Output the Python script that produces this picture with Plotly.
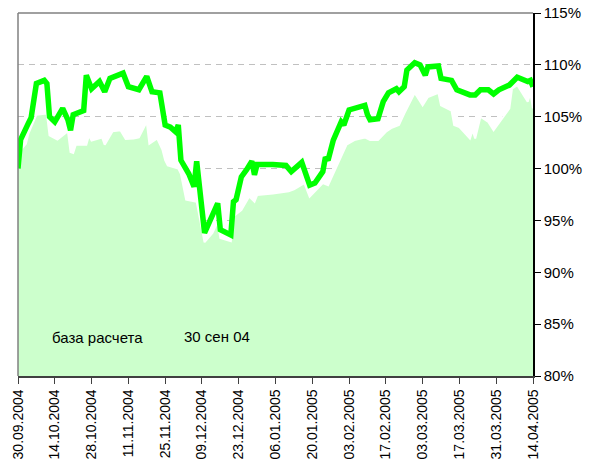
import plotly.graph_objects as go

# Main series (green line)
line_dates = [
    "2004-09-30", "2004-10-01", "2004-10-04", "2004-10-05", "2004-10-07", "2004-10-10",
    "2004-10-11", "2004-10-12", "2004-10-14", "2004-10-17", "2004-10-19", "2004-10-20",
    "2004-10-21", "2004-10-25", "2004-10-26", "2004-10-28", "2004-10-31", "2004-11-02",
    "2004-11-04", "2004-11-09", "2004-11-11", "2004-11-15", "2004-11-18", "2004-11-20",
    "2004-11-23", "2004-11-24", "2004-11-25", "2004-11-27", "2004-11-29", "2004-11-30",
    "2004-12-01", "2004-12-04", "2004-12-06", "2004-12-07", "2004-12-10", "2004-12-15",
    "2004-12-16", "2004-12-20", "2004-12-21", "2004-12-22", "2004-12-24", "2004-12-26",
    "2004-12-28", "2004-12-29", "2004-12-30", "2005-01-05", "2005-01-10", "2005-01-12",
    "2005-01-16", "2005-01-19", "2005-01-21", "2005-01-24", "2005-01-25", "2005-01-26",
    "2005-01-28", "2005-01-31", "2005-02-01", "2005-02-03", "2005-02-07", "2005-02-09",
    "2005-02-10", "2005-02-11", "2005-02-14", "2005-02-16", "2005-02-18", "2005-02-21",
    "2005-02-22", "2005-02-24", "2005-02-25", "2005-02-28", "2005-03-02", "2005-03-04",
    "2005-03-05", "2005-03-09", "2005-03-10", "2005-03-14", "2005-03-16", "2005-03-21",
    "2005-03-23", "2005-03-25", "2005-03-28", "2005-03-30", "2005-04-01", "2005-04-05",
    "2005-04-08", "2005-04-12", "2005-04-13", "2005-04-14",
]
line_values = [
    100.0, 102.8, 104.4, 104.9, 108.2, 108.5,
    108.2, 105.0, 104.5, 105.8, 104.7, 103.7,
    105.2, 105.6, 109.0, 107.7, 108.4, 107.4,
    108.7, 109.2, 107.9, 107.6, 108.9, 107.4,
    107.3, 106.0, 104.2, 104.0, 103.55, 104.2,
    100.8, 99.5, 98.25, 100.7, 93.8, 96.65,
    94.1, 93.6, 96.8, 97.0, 99.2, 99.9,
    100.7, 99.4, 100.4, 100.4, 100.3, 99.7,
    100.6, 98.4, 98.6, 99.7, 101.1, 100.8,
    102.75, 104.5, 104.2, 105.65, 106.0, 106.1,
    105.2, 104.7, 104.8, 106.45, 107.3, 107.7,
    107.4, 107.9, 109.5, 110.2, 110.0, 109.0,
    109.8, 109.9, 108.7, 108.5, 107.6, 107.1,
    107.1, 107.6, 107.6, 107.2, 107.6, 108.05,
    108.8, 108.4, 108.5, 107.9,
]

# Benchmark series (light green area)
area_dates = [
    "2004-09-30", "2004-10-01", "2004-10-03", "2004-10-04", "2004-10-07", "2004-10-11",
    "2004-10-12", "2004-10-14", "2004-10-15", "2004-10-19", "2004-10-20", "2004-10-21",
    "2004-10-22", "2004-10-26", "2004-10-27", "2004-10-28", "2004-11-01", "2004-11-02",
    "2004-11-05", "2004-11-08", "2004-11-10", "2004-11-13", "2004-11-15", "2004-11-18",
    "2004-11-19", "2004-11-22", "2004-11-24", "2004-11-25", "2004-11-26", "2004-11-30",
    "2004-12-01", "2004-12-03", "2004-12-07", "2004-12-10", "2004-12-13", "2004-12-15",
    "2004-12-16", "2004-12-20", "2004-12-21", "2004-12-24", "2004-12-27", "2004-12-29",
    "2004-12-30", "2005-01-05", "2005-01-11", "2005-01-13", "2005-01-17", "2005-01-19",
    "2005-01-21", "2005-01-24", "2005-01-26", "2005-01-29", "2005-02-02", "2005-02-05",
    "2005-02-07", "2005-02-09", "2005-02-11", "2005-02-14", "2005-02-17", "2005-02-19",
    "2005-02-22", "2005-02-24", "2005-02-28", "2005-03-03", "2005-03-05", "2005-03-09",
    "2005-03-10", "2005-03-14", "2005-03-15", "2005-03-17", "2005-03-21", "2005-03-22",
    "2005-03-23", "2005-03-25", "2005-03-28", "2005-03-30", "2005-04-05", "2005-04-06",
    "2005-04-08", "2005-04-12", "2005-04-13", "2005-04-14",
]
area_values = [
    100.0, 101.8, 102.4, 103.4, 105.2, 105.3,
    103.2, 102.9, 102.8, 103.6, 101.6, 101.5,
    102.3, 102.3, 103.2, 102.7, 103.0, 102.3,
    103.6, 103.7, 102.85, 102.9, 103.0, 104.5,
    102.4, 102.9, 101.8, 100.8, 100.3, 100.0,
    99.5, 97.0, 96.8, 92.9, 93.8, 94.9,
    93.3, 93.0, 95.4, 96.0, 97.3, 96.8,
    97.45, 97.6, 97.8, 98.0, 98.6, 97.3,
    97.8, 98.6, 98.4, 100.0, 102.3, 102.75,
    102.9, 103.0, 102.75, 102.75, 103.55, 103.9,
    104.2, 105.3, 107.3, 106.1, 106.9, 107.3,
    106.1, 105.6, 104.2, 104.0, 102.9, 103.7,
    102.9, 105.0, 104.5, 103.7, 105.8, 107.7,
    108.05, 106.45, 107.25, 105.8,
]

tick_dates = [
    "2004-09-30", "2004-10-14", "2004-10-28", "2004-11-11", "2004-11-25",
    "2004-12-09", "2004-12-23", "2005-01-06", "2005-01-20", "2005-02-03",
    "2005-02-17", "2005-03-03", "2005-03-17", "2005-03-31", "2005-04-14",
]
tick_labels = [
    "30.09.2004", "14.10.2004", "28.10.2004", "11.11.2004", "25.11.2004",
    "09.12.2004", "23.12.2004", "06.01.2005", "20.01.2005", "03.02.2005",
    "17.02.2005", "03.03.2005", "17.03.2005", "31.03.2005", "14.04.2005",
]
y_ticks = [80, 85, 90, 95, 100, 105, 110, 115]
y_labels = [f"{v}%" for v in y_ticks]

annotation_texts = ["база расчета", "30 сен 04"]

FONT = "Liberation Sans, Arial, sans-serif"

fig = go.Figure()
fig.add_trace(go.Scatter(
    x=area_dates, y=area_values, mode="lines",
    line=dict(color="white", width=2),
    fill="tozeroy", fillcolor="#ccffcc",
    hoverinfo="skip", showlegend=False,
))
fig.add_trace(go.Scatter(
    x=line_dates, y=line_values, mode="lines",
    line=dict(color="#00ff00", width=5.5),
    showlegend=False,
))

fig.update_layout(
    width=589, height=470,
    margin=dict(l=18, r=56, t=13, b=94, autoexpand=False),
    paper_bgcolor="white", plot_bgcolor="white",
    font=dict(family=FONT, size=15, color="black"),
    showlegend=False,
    xaxis=dict(
        type="date", automargin=False,
        range=["2004-09-30", "2005-04-14"],
        tickvals=tick_dates, ticktext=tick_labels,
        tickangle=-90, tickfont=dict(size=14),
        ticks="outside", ticklen=6, tickcolor="#404040",
        showline=True, linecolor="#404040", linewidth=1.5,
        showgrid=False, zeroline=False,
    ),
    yaxis=dict(
        side="right", automargin=False,
        range=[80, 115],
        tickvals=y_ticks, ticktext=y_labels,
        tickfont=dict(size=15),
        ticks="outside", ticklen=6, tickcolor="black",
        showline=True, linecolor="black", linewidth=1.5,
        showgrid=True, gridcolor="#c0c0c0", griddash="6px,5px", gridwidth=1,
        zeroline=False,
    ),
    shapes=[
        dict(type="line", xref="paper", yref="paper", x0=0, x1=0, y0=0, y1=1,
             line=dict(color="#808080", width=1.5)),
        dict(type="line", xref="paper", yref="paper", x0=0, x1=1, y0=1, y1=1,
             line=dict(color="#808080", width=1.5)),
    ],
    annotations=[
        dict(text=annotation_texts[0], xref="paper", yref="paper",
             x=0.155, y=0.105, xanchor="center", yanchor="middle",
             showarrow=False, font=dict(size=15)),
        dict(text=annotation_texts[1], xref="paper", yref="paper",
             x=0.386, y=0.11, xanchor="center", yanchor="middle",
             showarrow=False, font=dict(size=15)),
    ],
)

# remove the browser's default page margin so the figure sits at the window's corner
fig.write_html(
    "out.html",
    config={"displayModeBar": False},
    post_script="document.body.style.margin='0px';",
)
